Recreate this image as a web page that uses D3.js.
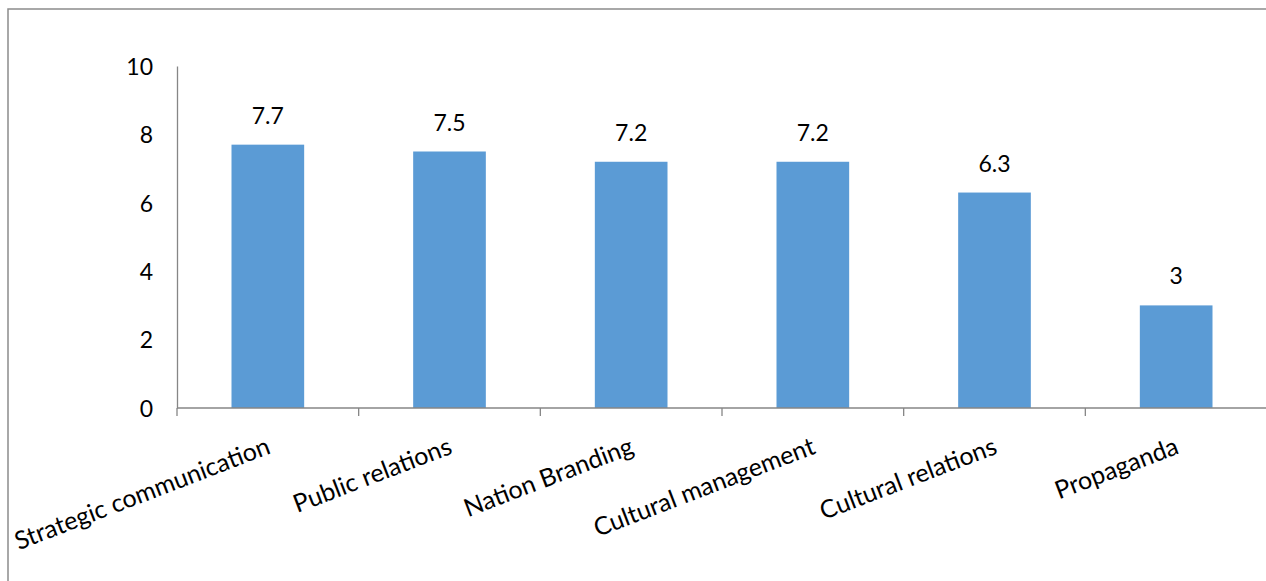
<!DOCTYPE html>
<html>
<head>
  <meta charset="utf-8">
  <script src="https://d3js.org/d3.v7.min.js"></script>
  <style>
    body { margin: 0; background: #fff; }
    text { font-family: Lato, "Open Sans", sans-serif; fill: #000; }
    .frame { fill: none; stroke: #8c8c8c; stroke-width: 1.5px; }
    .axis path, .axis line { stroke: #868686; stroke-width: 1.3px; }
  </style>
</head>
<body>
  <svg width="1266" height="581"></svg>
  <script>
    const categories = ["Strategic communication", "Public relations", "Nation Branding",
      "Cultural management", "Cultural relations", "Propaganda"]
    const values = [7.7, 7.5, 7.2, 7.2, 6.3, 3]
    const yTicks = [0, 2, 4, 6, 8, 10]

    const svg = d3.select("svg")

    svg.append("rect")
      .attr("class", "frame")
      .attr("x", 8).attr("y", 9)
      .attr("width", 1300).attr("height", 600)

    const plotLeft = 177, plotRight = 1267, plotTop = 66, plotBottom = 408

    const x = d3.scaleBand().domain(categories).range([plotLeft, plotRight])
    const y = d3.scaleLinear().domain([0, 10]).range([plotBottom, plotTop])
    const barW = x.bandwidth() * 0.4

    // bars
    svg.append("g")
      .selectAll("rect")
      .data(values)
      .enter().append("rect")
      .attr("x", (d, i) => x(categories[i]) + (x.bandwidth() - barW) / 2)
      .attr("y", d => y(d))
      .attr("width", barW)
      .attr("height", d => y(0) - y(d))
      .attr("fill", "#5b9bd5")

    // value labels
    svg.append("g")
      .selectAll("text")
      .data(values)
      .enter().append("text")
      .attr("x", (d, i) => x(categories[i]) + x.bandwidth() / 2)
      .attr("y", d => y(d) - 21)
      .attr("text-anchor", "middle")
      .style("font-size", "23px")
      .text(d => d)

    // y axis
    const yAxis = svg.append("g")
      .attr("class", "axis")
      .attr("transform", `translate(${plotLeft},0)`)
      .call(d3.axisLeft(y).tickValues(yTicks).tickSize(0).tickPadding(24))
    yAxis.selectAll("text").style("font-size", "23px").attr("dy", "0.36em")

    // x axis line and ticks at band edges
    const xAxis = svg.append("g").attr("class", "axis")
    xAxis.append("line")
      .attr("x1", plotLeft).attr("x2", plotRight)
      .attr("y1", y(0)).attr("y2", y(0))
    xAxis.selectAll(".tk")
      .data(categories)
      .enter().append("line")
      .attr("class", "tk")
      .attr("x1", d => x(d)).attr("x2", d => x(d))
      .attr("y1", y(0)).attr("y2", y(0) + 8)

    // rotated category labels
    svg.append("g")
      .selectAll("text")
      .data(categories)
      .enter().append("text")
      .attr("text-anchor", "end")
      .attr("transform", d => `translate(${x(d) + x.bandwidth() / 2 + 4},${plotBottom + 45}) rotate(-21)`)
      .style("font-size", "25px")
      .text(d => d)
  </script>
</body>
</html>
